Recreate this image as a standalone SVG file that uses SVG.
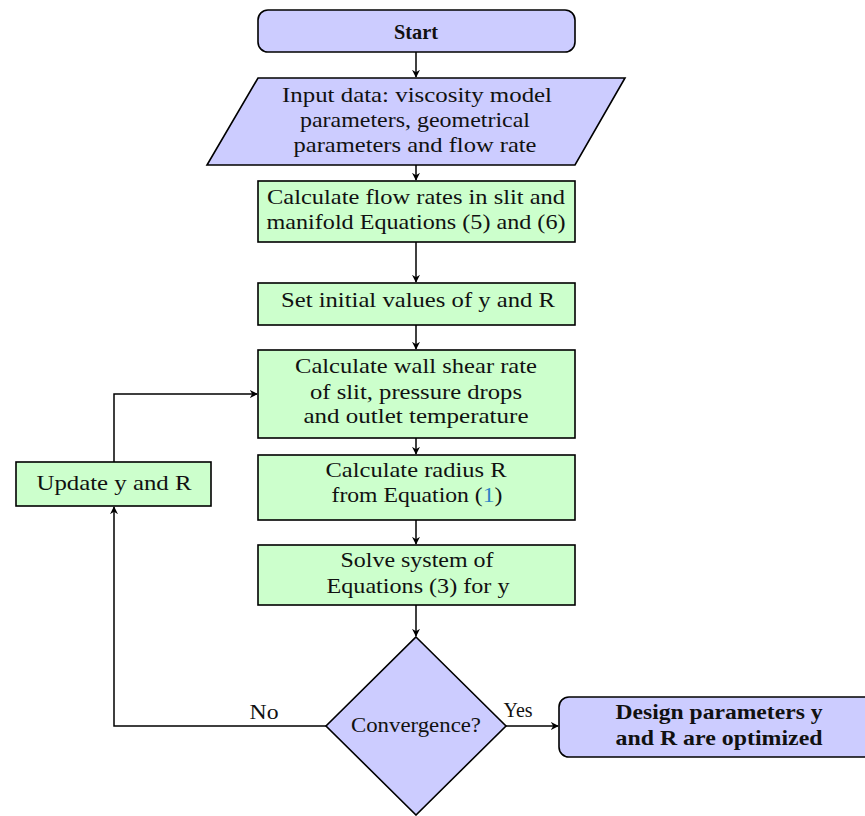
<svg xmlns="http://www.w3.org/2000/svg" width="865" height="816" viewBox="0 0 865 816">
<defs>
<style>
.b{fill:#ccccff;stroke:#000;stroke-width:1.6}
.g{fill:#ccffcc;stroke:#000;stroke-width:1.6}
.t{font-family:"Liberation Serif","DejaVu Serif",serif;font-size:22px;fill:#111;text-anchor:middle}
.bd{font-weight:bold;font-size:21px}
.c{fill:none;stroke:#000;stroke-width:1.5}
</style>
<marker id="a" viewBox="0 0 10 10" refX="9" refY="5" markerWidth="8" markerHeight="8" markerUnits="userSpaceOnUse" orient="auto">
<path d="M0,0 L10,5 L0,10 L3,5 Z" fill="#000"/>
</marker>
</defs>
<rect width="865" height="816" fill="#fff"/>
<g id="start">
<rect class="b" x="258" y="10" width="317" height="42" rx="10"/>
<text class="t bd" x="416" y="39" textLength="44" lengthAdjust="spacingAndGlyphs">Start</text>
</g>
<g id="input">
<polygon class="b" points="258,78 625,78 575,165 207,165"/>
<text class="t" x="417" y="102" textLength="270" lengthAdjust="spacingAndGlyphs">Input data:  viscosity model</text>
<text class="t" x="415" y="127" textLength="230" lengthAdjust="spacingAndGlyphs">parameters, geometrical</text>
<text class="t" x="415" y="152" textLength="243" lengthAdjust="spacingAndGlyphs">parameters and flow rate</text>
</g>
<g id="flow">
<rect class="g" x="258" y="181" width="317" height="61"/>
<text class="t" x="416" y="204" textLength="298" lengthAdjust="spacingAndGlyphs">Calculate flow rates in slit and</text>
<text class="t" x="416" y="229" textLength="299" lengthAdjust="spacingAndGlyphs">manifold Equations (5) and (6)</text>
</g>
<g id="init">
<rect class="g" x="258" y="283" width="317" height="42"/>
<text class="t" x="418" y="307" textLength="274" lengthAdjust="spacingAndGlyphs">Set initial values of y and R</text>
</g>
<g id="shear">
<rect class="g" x="258" y="350" width="317" height="88"/>
<text class="t" x="416" y="373" textLength="242" lengthAdjust="spacingAndGlyphs">Calculate wall shear rate</text>
<text class="t" x="416" y="399" textLength="212" lengthAdjust="spacingAndGlyphs">of slit, pressure drops</text>
<text class="t" x="416" y="423" textLength="225" lengthAdjust="spacingAndGlyphs">and outlet temperature</text>
</g>
<g id="radius">
<rect class="g" x="258" y="455" width="317" height="65"/>
<text class="t" x="416" y="477" textLength="181" lengthAdjust="spacingAndGlyphs">Calculate radius R</text>
<text class="t" x="417" y="502" textLength="171" lengthAdjust="spacingAndGlyphs">from Equation (<tspan fill="#2b83c6">1</tspan>)</text>
</g>
<g id="solve">
<rect class="g" x="258" y="545" width="317" height="60"/>
<text class="t" x="417" y="567" textLength="153" lengthAdjust="spacingAndGlyphs">Solve system of</text>
<text class="t" x="418" y="593" textLength="183" lengthAdjust="spacingAndGlyphs">Equations (3) for y</text>
</g>
<g id="conv">
<polygon class="b" points="416,637 506,726 416,815 326,726"/>
<text class="t" x="416" y="732" textLength="130" lengthAdjust="spacingAndGlyphs">Convergence?</text>
</g>
<g id="update">
<rect class="g" x="16" y="462" width="195" height="44"/>
<text class="t" x="114" y="490" textLength="155" lengthAdjust="spacingAndGlyphs">Update y and R</text>
</g>
<g id="end">
<rect class="b" x="559" y="697" width="320" height="60" rx="10"/>
<text class="t bd" x="719" y="719" textLength="207" lengthAdjust="spacingAndGlyphs">Design parameters y</text>
<text class="t bd" x="719" y="745" textLength="207" lengthAdjust="spacingAndGlyphs">and R are optimized</text>
</g>
<g id="connectors">
<line class="c" x1="416" y1="52" x2="416" y2="77" marker-end="url(#a)"/>
<line class="c" x1="416" y1="165" x2="416" y2="180" marker-end="url(#a)"/>
<line class="c" x1="416" y1="242" x2="416" y2="282" marker-end="url(#a)"/>
<line class="c" x1="416" y1="325" x2="416" y2="349" marker-end="url(#a)"/>
<line class="c" x1="416" y1="438" x2="416" y2="454" marker-end="url(#a)"/>
<line class="c" x1="416" y1="520" x2="416" y2="544" marker-end="url(#a)"/>
<line class="c" x1="416" y1="605" x2="416" y2="636" marker-end="url(#a)"/>
<line class="c" x1="506" y1="726" x2="558" y2="726" marker-end="url(#a)"/>
<polyline class="c" points="326,726 114,726 114,507" marker-end="url(#a)"/>
<polyline class="c" points="114,462 114,394 257,394" marker-end="url(#a)"/>
<text class="t" x="518" y="717" textLength="29" lengthAdjust="spacingAndGlyphs">Yes</text>
<text class="t" x="264" y="719" textLength="29" lengthAdjust="spacingAndGlyphs">No</text>
</g>
</svg>
